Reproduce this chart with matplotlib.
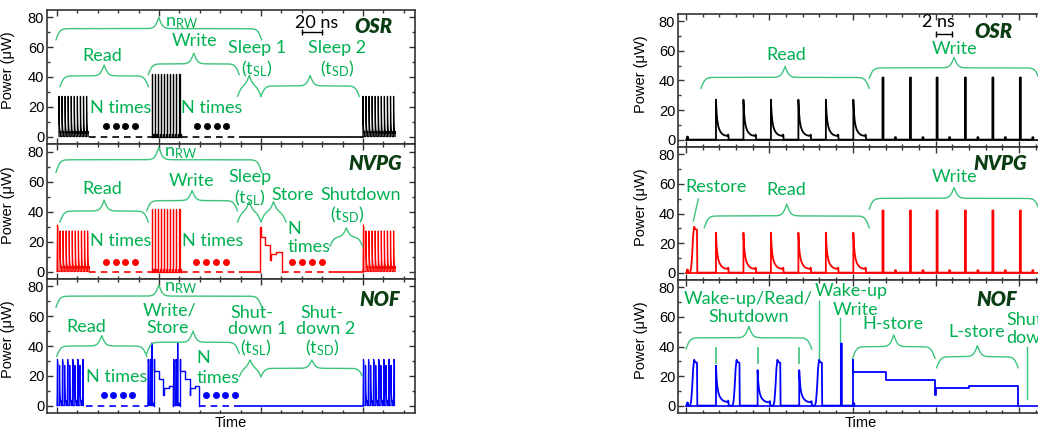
import numpy as np
import matplotlib.pyplot as plt
from matplotlib.ticker import MultipleLocator

GREEN = '#00B050'
BRACE_C = '#3CC47C'
DARK = '#0B3D12'
LFONT = ['Lato', 'DejaVu Sans']
AFONT = ['Liberation Sans', 'DejaVu Sans']

# pulse shapes (offset in ns, power in uW)
read_dt = [0.0, 0.0, 0.08, 0.16, 0.28, 0.42, 0.6, 0.8, 1.0, 1.25, 1.42, 1.45, 1.5, 1.52]
read_p = [0.0, 27.0, 18.0, 13.0, 9.0, 6.5, 4.8, 3.6, 3.0, 2.6, 2.4, 3.4, 3.0, 0.0]
write_dt = [0.0, 0.0, 0.12, 0.12, 1.5, 1.5, 1.62, 1.62]
write_p = [0.0, 42.0, 42.0, 0.0, 0.0, 1.6, 1.6, 0.0]
wake_dt = [0.0, 0.12, 0.24, 0.36, 0.48, 0.6, 0.82, 0.86]
wake_p = [0.0, 3.0, 12.0, 25.0, 31.0, 29.5, 29.0, 0.0]
blip_dt = [0.0, 0.05, 0.15, 0.2]
blip_p = [0.0, 2.0, 2.0, 0.0]
SHAPES = {'read': (read_dt, read_p), 'write': (write_dt, write_p),
          'wake': (wake_dt, wake_p), 'blip': (blip_dt, blip_p)}

# ---------------- left column (long time scale, ns) ----------------
osr_read1 = [2, 5, 8, 11, 14, 17, 20, 23, 26, 29]
osr_write = [93, 96, 99, 102, 105, 108, 111, 114, 117, 120]
osr_read2 = [300, 303, 306, 309, 312, 315, 318, 321, 324, 327, 330]
osr_dash = [(31, 93), (122, 179)]
osr_solid = [(179, 300)]
osr_dots = [48, 58, 67, 76, 137, 147, 157, 166]

nvpg_restore = [0, 300]
nvpg_read1 = [3, 6, 9, 12, 15, 18, 21, 24, 27, 30]
nvpg_read2 = [303, 306, 309, 312, 315, 318, 321, 324, 327, 330]
nvpg_write = [93, 96, 99, 102, 105, 108, 111, 114, 117, 120]
nvpg_store_t = [199, 199, 199.6, 199.6, 204, 204, 209, 209, 209.6, 209.6, 215, 215, 221, 221]
nvpg_store_p = [0, 30, 30, 23, 23, 18, 18, 8, 8, 12, 12, 13, 13, 0]
nvpg_dash = [(31.5, 93), (122, 179), (221, 268)]
nvpg_solid = [(179, 199), (268, 300)]
nvpg_dots = [48, 58, 67, 76, 136, 146, 156, 166, 230, 240, 250, 260]

nof_wake1 = [0, 5, 10, 15, 20, 25]
nof_read1 = [2.5, 7.5, 12.5, 17.5, 22.5]
nof_wake2 = [300, 305, 310, 315, 320, 325, 330]
nof_read2 = [302.5, 307.5, 312.5, 317.5, 322.5, 327.5]
nof_wake_w = [89, 91, 114, 116.3]
nof_write = [93, 118.3]
nof_store1_t = [95, 95, 95.5, 95.5, 100, 100, 104, 104, 104.6, 104.6, 110, 110, 113.5, 113.5]
nof_store2_t = [120.5, 120.5, 121, 121, 125.5, 125.5, 130, 130, 130.6, 130.6, 135, 135, 139.5, 139.5]
nof_store_p = [0, 31, 31, 23, 23, 18, 18, 7, 7, 12, 12, 13, 13, 0]
nof_dash = [(28, 89), (139.5, 179)]
nof_solid = [(179, 300)]
nof_dots = [46, 55, 65, 74, 146, 156, 165, 175]

# ---------------- right column (short time scale, ns) ----------------
r_read = [3.6, 6.9, 10.2, 13.5, 16.8, 20.1]
r_write = [23.6, 26.9, 30.1, 33.5, 36.8, 40.1]
r_blip = [0.08]
r_restore = [0.5]
r_nof_wake = [0.5, 5.6, 10.5, 15.5]
r_nof_read = [3.6, 8.6, 13.6]
r_nof_read_peak = [27, 24, 24]
r_nof_write = [18.6]
r_store_t = [20, 20, 20.1, 20.1, 24, 24, 29.9, 29.9, 30.05, 30.05, 34, 34, 39.9, 39.9]
r_store_p = [0, 31, 31, 23, 23, 17.5, 17.5, 7, 7, 12, 12, 13, 13, 0]
r_markers = [3.6, 8.6, 13.6]


def burst(ax, events, color, lw):
    t, p = [], []
    for t0, kind, peak in sorted(events):
        dt, pp = SHAPES[kind]
        k = peak / max(pp)
        t += [t0 + d for d in dt]
        p += [v * k for v in pp]
    ax.plot(t, p, color=color, lw=lw, zorder=3)


def ev(times, kind, peak):
    return [(t, kind, peak) for t in times]


def baseline(ax, segs, color, dashed):
    for a, b in segs:
        ax.plot([a, b], [0, 0], color=color, lw=1.2,
                ls=(0, (4, 3)) if dashed else '-', zorder=2)


def brace(ax, x0, x1, y_end, y_tip, b):
    xh = np.linspace(0, (x1 - x0) / 2, 201)
    yh = 1 / (1 + np.exp(-b * xh)) + 1 / (1 + np.exp(-b * (xh - xh[-1]))) - 0.5
    xs = np.concatenate([x0 + xh, x1 - xh[-2::-1]])
    ys = np.concatenate([yh, yh[-2::-1]])
    ax.plot(xs, y_end + (y_tip - y_end) * ys, color=BRACE_C, lw=1.0, zorder=4,
            clip_on=False)


def lab(ax, x, y, s, ha='center', size=13, color=GREEN):
    ax.text(x, y, s, color=color, fontsize=size, ha=ha, va='center',
            family=LFONT, zorder=5, clip_on=False)


def tag(ax, x, y, s):
    ax.text(x, y, s, color=DARK, fontsize=14.5, ha='center', va='center',
            family=LFONT, fontweight='heavy', fontstyle='italic', zorder=5)


def style(ax, xlim, major, minor, bottom):
    ax.set_xlim(*xlim)
    ax.set_ylim(-5, 85)
    ax.xaxis.set_major_locator(MultipleLocator(major))
    ax.xaxis.set_minor_locator(MultipleLocator(minor))
    ax.yaxis.set_major_locator(MultipleLocator(20))
    ax.yaxis.set_minor_locator(MultipleLocator(10))
    ax.tick_params(which='both', direction='in', top=True, right=True,
                   labelbottom=False, width=1, color='#333333', pad=2)
    ax.tick_params(which='major', length=4)
    ax.tick_params(which='minor', length=2)
    for lbl in ax.get_yticklabels():
        lbl.set_family(AFONT)
        lbl.set_fontsize(10.5)
    for s in ax.spines.values():
        s.set_linewidth(1.2)
        s.set_color('#333333')
    ax.set_ylabel('Power (\u03bcW)', family=AFONT, fontsize=10.5)
    if bottom:
        ax.set_xlabel('Time', family=AFONT, fontsize=10.5)


fig = plt.figure(figsize=(10.38, 4.30), dpi=100)

L = 47 / 1038
LW = (415 - 47) / 1038
axL1 = fig.add_axes([L, 1 - 144 / 430, LW, 134 / 430])
axL2 = fig.add_axes([L, 1 - 279 / 430, LW, 135 / 430])
axL3 = fig.add_axes([L, 1 - 413 / 430, LW, 134 / 430])
R = 678 / 1038
RW = (1044 - 678) / 1038
axR1 = fig.add_axes([R, 1 - 147 / 430, RW, 133 / 430])
axR2 = fig.add_axes([R, 1 - 280 / 430, RW, 133 / 430])
axR3 = fig.add_axes([R, 1 - 413 / 430, RW, 133 / 430])

for ax in (axL1, axL2, axL3):
    style(ax, (-9.8, 351), 100, 20, ax is axL3)
    ax.yaxis.set_label_coords(-0.087, 0.55)
for ax in (axR1, axR2, axR3):
    style(ax, (-0.96, 43.0), 10, 2, ax is axR3)
    ax.yaxis.set_label_coords(-0.082, 0.55)
for ax in (axL3, axR3):
    ax.xaxis.set_label_coords(0.5, -0.02)
    ax.xaxis.label.set_va('top')

BL = 0.5   # brace sharpness, left
BR = 4.0   # brace sharpness, right
nrw = '$\\mathregular{n_{RW}}$'
tsl = '$\\mathregular{(t_{SL})}$'
tsd = '$\\mathregular{(t_{SD})}$'

# ---- left OSR ----
ax = axL1
burst(ax, ev(osr_read1, 'read', 27), 'k', 0.9)
burst(ax, ev(osr_write, 'write', 42), 'k', 0.9)
burst(ax, ev(osr_read2, 'read', 27), 'k', 0.9)
baseline(ax, osr_dash, 'k', True)
baseline(ax, osr_solid, 'k', False)
ax.plot(osr_dots, [7] * len(osr_dots), 'o', color='k', ms=4)
brace(ax, -1, 200.7, 65, 80, BL)
brace(ax, 2.9, 89.5, 33.5, 48, BL)
brace(ax, 89.5, 178.7, 41.6, 56, BL)
brace(ax, 177, 200, 27, 41, BL)
brace(ax, 200, 296.4, 27, 41, BL)
lab(ax, 122, 76, nrw)
lab(ax, 44, 54, 'Read')
lab(ax, 134.6, 64, 'Write')
lab(ax, 196, 59.3, 'Sleep 1')
lab(ax, 196, 45.8, tsl)
lab(ax, 275, 59.3, 'Sleep 2')
lab(ax, 275, 45.8, tsd)
lab(ax, 62, 19.5, 'N times')
lab(ax, 152, 19.5, 'N times')
ax.plot([240, 260], [70, 70], color='k', lw=1, marker='|', ms=5)
lab(ax, 255, 76.5, '20 ns', color='k')
tag(ax, 310, 73.8, 'OSR')

# ---- left NVPG ----
ax = axL2
burst(ax, ev(nvpg_restore[:1], 'wake', 31) + ev(nvpg_read1, 'read', 27), 'r', 0.9)
burst(ax, ev(nvpg_write, 'write', 42), 'r', 0.9)
burst(ax, ev(nvpg_restore[1:], 'wake', 31) + ev(nvpg_read2, 'read', 27), 'r', 0.9)
ax.plot(nvpg_store_t, nvpg_store_p, color='r', lw=1.0, zorder=3)
baseline(ax, nvpg_dash, 'r', True)
baseline(ax, nvpg_solid, 'r', False)
ax.plot(nvpg_dots, [6.5] * len(nvpg_dots), 'o', color='r', ms=4)
brace(ax, -1, 200.7, 66, 83, BL)
brace(ax, 2.9, 89.5, 33, 47.6, BL)
brace(ax, 87.9, 177, 40.5, 54, BL)
brace(ax, 177, 200, 33, 46.5, BL)
brace(ax, 200, 224.5, 33, 46.5, BL)
brace(ax, 267.6, 299.7, 16.8, 29, BL)
lab(ax, 121, 79, nrw)
lab(ax, 44, 55, 'Read')
lab(ax, 132, 60, 'Write')
lab(ax, 189, 63, 'Sleep')
lab(ax, 189, 49, tsl)
lab(ax, 231, 51, 'Store')
lab(ax, 298, 51, 'Shutdown')
lab(ax, 284, 37.6, tsd)
lab(ax, 62, 20, 'N times')
lab(ax, 153, 20, 'N times')
lab(ax, 225.8, 28.6, 'N', ha='left')
lab(ax, 225.8, 16.3, 'times', ha='left')
tag(ax, 312, 72.3, 'NVPG')

# ---- left NOF ----
ax = axL3
burst(ax, ev(nof_wake1, 'wake', 31) + ev(nof_read1, 'read', 27), 'b', 0.9)
burst(ax, ev(nof_wake2, 'wake', 31) + ev(nof_read2, 'read', 27), 'b', 0.9)
burst(ax, ev(nof_wake_w[:2], 'wake', 31) + ev(nof_write[:1], 'write', 42), 'b', 0.9)
burst(ax, ev(nof_wake_w[2:], 'wake', 31) + ev(nof_write[1:], 'write', 42), 'b', 0.9)
ax.plot(nof_store1_t, nof_store_p, color='b', lw=1.0, zorder=3)
ax.plot(nof_store2_t, nof_store_p, color='b', lw=1.0, zorder=3)
baseline(ax, nof_dash, 'b', True)
baseline(ax, nof_solid, 'b', False)
ax.plot(nof_dots, [7] * len(nof_dots), 'o', color='b', ms=4)
brace(ax, -1, 200.7, 66, 81, BL)
brace(ax, -0.3, 88, 33, 47, BL)
brace(ax, 88, 178.7, 35, 50, BL)
brace(ax, 178.7, 200, 19.4, 30.6, BL)
brace(ax, 200, 299.7, 19.4, 30.6, BL)
lab(ax, 120.6, 78.7, nrw)
lab(ax, 29, 52.5, 'Read')
lab(ax, 110.8, 64, 'Write/')
lab(ax, 109, 52.3, 'Store')
lab(ax, 191, 62, 'Shut-')
lab(ax, 197, 51.5, 'down 1')
lab(ax, 195, 38.5, tsl)
lab(ax, 260, 62, 'Shut-')
lab(ax, 263, 51.5, 'down 2')
lab(ax, 260, 38.5, tsd)
lab(ax, 58.5, 19.4, 'N times')
lab(ax, 137, 32, 'N', ha='left')
lab(ax, 137, 18.5, 'times', ha='left')
tag(ax, 316.7, 70.9, 'NOF')

# ---- right OSR ----
ax = axR1
ax.plot([0, 43], [0, 0], color='k', lw=1.2, zorder=2)
burst(ax, ev(r_blip, 'blip', 2) + ev(r_read, 'read', 27) + ev(r_write, 'write', 42), 'k', 1.3)
brace(ax, 1.8, 22, 34.7, 49.5, BR)
brace(ax, 22, 42.4, 41.5, 55.6, BR)
lab(ax, 12, 57, 'Read')
lab(ax, 32.2, 61.5, 'Write')
ax.plot([30, 32], [71.4, 71.4], color='k', lw=1, marker='|', ms=5)
lab(ax, 30.3, 79.5, '2 ns', color='k')
tag(ax, 36.9, 73, 'OSR')

# ---- right NVPG ----
ax = axR2
ax.plot([0, 43], [0, 0], color='r', lw=1.2, zorder=2)
burst(ax, ev(r_blip, 'blip', 2) + ev(r_restore, 'wake', 31) + ev(r_read, 'read', 27)
      + ev(r_write, 'write', 42), 'r', 1.3)
brace(ax, 2.2, 22, 30.4, 46.3, BR)
brace(ax, 22, 42.4, 42.9, 57.6, BR)
ax.plot([1.48, 0.88], [49.7, 34.9], color=BRACE_C, lw=1.0)
lab(ax, 3.6, 58, 'Restore')
lab(ax, 12.1, 56, 'Read')
lab(ax, 32.2, 65, 'Write')
tag(ax, 37.7, 73.5, 'NVPG')

# ---- right NOF ----
ax = axR3
ax.plot([0, 43], [0, 0], color='b', lw=1.2, zorder=2)
events = ev(r_blip, 'blip', 2) + ev(r_nof_wake, 'wake', 31) + ev(r_nof_write, 'write', 42)
events += [(t, 'read', pk) for t, pk in zip(r_nof_read, r_nof_read_peak)]
burst(ax, events, 'b', 1.3)
ax.plot(r_store_t, r_store_p, color='b', lw=1.3, zorder=3)
brace(ax, 0, 15.1, 38.3, 53.5, BR)
brace(ax, 20, 29.9, 32, 47.8, BR)
brace(ax, 30.1, 39.9, 25.6, 40.6, BR)
for m in r_markers:
    ax.plot([m, m], [29, 39], color=BRACE_C, lw=1.2)
ax.plot([16, 16], [32, 71], color=BRACE_C, lw=1.0)
ax.plot([18.5, 18.5], [43.3, 59.6], color=BRACE_C, lw=1.0)
ax.plot([41, 41], [4.3, 40], color=BRACE_C, lw=1.0)
lab(ax, 7.5, 72, 'Wake-up/Read/')
lab(ax, 7.5, 60, 'Shutdown')
lab(ax, 19.9, 77.3, 'Wake-up')
lab(ax, 20.4, 64.5, 'Write')
lab(ax, 24.9, 55, 'H-store')
lab(ax, 34.9, 49.5, 'L-store')
lab(ax, 38.5, 58, 'Shut-', ha='left')
lab(ax, 38.5, 45.6, 'down', ha='left')
tag(ax, 37.3, 71.6, 'NOF')

fig.savefig('out.png', dpi=100)
